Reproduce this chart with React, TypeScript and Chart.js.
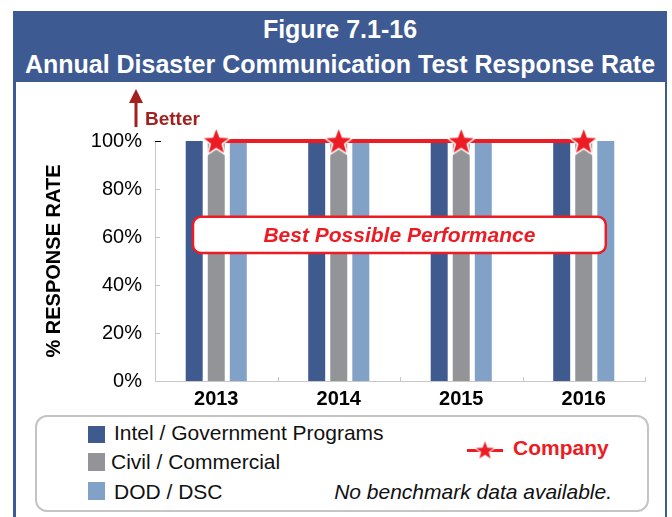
import React, { useEffect, useRef } from 'react';
import { Chart, registerables } from 'chart.js';

Chart.register(...registerables);

// ---- data ----
const years = ['2013', '2014', '2015', '2016'];
const intelGov = [100, 100, 100, 100];
const civilCommercial = [100, 100, 100, 100];
const dodDsc = [100, 100, 100, 100];
const companyBest = [100, 100, 100, 100];
const yTickValues = [0, 20, 40, 60, 80, 100];

const seriesNames = ['Intel / Government Programs', 'Civil / Commercial', 'DOD / DSC'];
const companyName = 'Company';
const noteText = 'No benchmark data available.';
const titleLine1 = 'Figure 7.1-16';
const titleLine2 = 'Annual Disaster Communication Test Response Rate';
const yTitle = '% RESPONSE RATE';
const bestText = 'Best Possible Performance';
const betterText = 'Better';

// ---- styles ----
const FONT = '"Liberation Sans", Arial, Helvetica, sans-serif';
const BLUE = '#3E5A8F';
const GRAY = '#929497';
const LIGHT = '#81A1C7';
const RED = '#ED1C24';
const DARKRED = '#A3201F';
const FRAME = '#3E5A92';

function makeStar(R: number, fill: string, stroke: string, lw: number) {
  const size = Math.ceil(2 * (R + lw + 1));
  const c = document.createElement('canvas');
  c.width = size;
  c.height = size;
  const ctx = c.getContext('2d')!;
  const cx = size / 2;
  const cy = size / 2 + R * 0.09;
  ctx.beginPath();
  for (let i = 0; i < 10; i++) {
    const a = -Math.PI / 2 + (i * Math.PI) / 5;
    const r = i % 2 === 0 ? R : R * 0.42;
    const x = cx + r * Math.cos(a);
    const y = cy + r * Math.sin(a);
    if (i === 0) ctx.moveTo(x, y);
    else ctx.lineTo(x, y);
  }
  ctx.closePath();
  ctx.lineJoin = 'miter';
  if (lw > 0) {
    ctx.strokeStyle = stroke;
    ctx.lineWidth = lw * 2;
    ctx.stroke();
  }
  ctx.fillStyle = fill;
  ctx.fill();
  return c;
}

function roundRect(ctx: CanvasRenderingContext2D, x: number, y: number, w: number, h: number, r: number) {
  ctx.beginPath();
  ctx.moveTo(x + r, y);
  ctx.lineTo(x + w - r, y);
  ctx.arcTo(x + w, y, x + w, y + r, r);
  ctx.lineTo(x + w, y + h - r);
  ctx.arcTo(x + w, y + h, x + w - r, y + h, r);
  ctx.lineTo(x + r, y + h);
  ctx.arcTo(x, y + h, x, y + h - r, r);
  ctx.lineTo(x, y + r);
  ctx.arcTo(x, y, x + r, y, r);
  ctx.closePath();
}

const decorPlugin = {
  id: 'decor',
  afterDatasetsDraw(chart: any) {
    const { ctx, scales } = chart;
    const xs = scales.x;
    const ys = scales.y;
    const x0 = xs.getPixelForValue(0);
    const step = xs.getPixelForValue(1) - x0;
    const px = (v: number) => x0 + v * step;

    // Best Possible Performance box
    const left = px(-0.19);
    const right = px(3.18);
    const top = ys.getPixelForValue(68.4);
    const bottom = ys.getPixelForValue(53.3);
    ctx.save();
    roundRect(ctx, left, top, right - left, bottom - top, 8);
    ctx.fillStyle = '#ffffff';
    ctx.fill();
    ctx.lineWidth = 2.5;
    ctx.strokeStyle = RED;
    ctx.stroke();
    ctx.fillStyle = RED;
    ctx.font = `italic bold 21px ${FONT}`;
    ctx.textAlign = 'center';
    ctx.textBaseline = 'middle';
    ctx.fillText(bestText, (left + right) / 2, (top + bottom) / 2 + 1);
    ctx.restore();
  },
  afterDraw(chart: any) {
    const { ctx, scales, chartArea } = chart;
    const xs = scales.x;
    const ys = scales.y;
    ctx.save();
    // inner y tick marks
    yTickValues.forEach((v) => {
      if (v === 0) return;
      const y = Math.round(ys.getPixelForValue(v)) + 0.5;
      ctx.beginPath();
      ctx.moveTo(chartArea.left, y);
      ctx.lineTo(chartArea.left + (v === 100 ? 6 : 5), y);
      ctx.strokeStyle = v === 100 ? '#000000' : '#C8C8C8';
      ctx.lineWidth = 1;
      ctx.stroke();
    });
    // inner x tick marks at category boundaries
    const x0 = xs.getPixelForValue(0);
    const step = xs.getPixelForValue(1) - x0;
    for (let i = 1; i <= years.length; i++) {
      const x = Math.round(x0 + (i - 0.5) * step) + 0.5;
      ctx.beginPath();
      ctx.moveTo(x, chartArea.bottom);
      ctx.lineTo(x, chartArea.bottom - 4);
      ctx.strokeStyle = '#C8C8C8';
      ctx.lineWidth = 1;
      ctx.stroke();
    }
    // Better arrow
    const ax = chartArea.left - 19;
    const tip = chartArea.top - 52;
    const shaftBottom = chartArea.top - 14;
    ctx.fillStyle = DARKRED;
    ctx.beginPath();
    ctx.moveTo(ax, tip);
    ctx.lineTo(ax + 7, tip + 14);
    ctx.lineTo(ax - 7, tip + 14);
    ctx.closePath();
    ctx.fill();
    ctx.fillRect(ax - 1.5, tip + 12, 3, shaftBottom - tip - 12);
    ctx.font = `bold 19px ${FONT}`;
    ctx.textAlign = 'left';
    ctx.textBaseline = 'alphabetic';
    ctx.fillText(betterText, ax + 9, chartArea.top - 16);
    ctx.restore();
  },
};

export default function App() {
  const ref = useRef<HTMLCanvasElement>(null);
  const iconRef = useRef<HTMLCanvasElement>(null);

  useEffect(() => {
    const star = makeStar(13, RED, '#ffffff', 1.5);
    const chart = new Chart(ref.current!, {
      type: 'bar',
      data: {
        labels: years,
        datasets: [
          {
            type: 'line',
            label: companyName,
            data: companyBest,
            borderColor: RED,
            borderWidth: 4,
            pointStyle: star as any,
            pointRadius: 13,
            fill: false,
            clip: false,
            order: 0,
          } as any,
          {
            label: seriesNames[0],
            data: intelGov,
            backgroundColor: BLUE,
            categoryPercentage: 0.54,
            barPercentage: 0.77,
            order: 1,
          },
          {
            label: seriesNames[1],
            data: civilCommercial,
            backgroundColor: GRAY,
            categoryPercentage: 0.54,
            barPercentage: 0.77,
            order: 1,
          },
          {
            label: seriesNames[2],
            data: dodDsc,
            backgroundColor: LIGHT,
            categoryPercentage: 0.54,
            barPercentage: 0.77,
            order: 1,
          },
        ],
      },
      options: {
        animation: false,
        responsive: false,
        maintainAspectRatio: false,
        devicePixelRatio: 1,
        layout: { padding: { top: 59, right: 20, left: 0, bottom: 0 } },
        plugins: {
          legend: { display: false },
          tooltip: { enabled: false },
          title: { display: false },
        },
        scales: {
          x: {
            grid: { display: false, drawTicks: false },
            border: { display: true, color: '#C8C8C8', width: 1 },
            ticks: {
              color: '#000000',
              font: { family: FONT, size: 20, weight: 'bold' },
              padding: 6,
            },
            afterFit: (s: any) => {
              s.height = 31;
            },
          },
          y: {
            min: 0,
            max: 100,
            grid: { display: false, drawTicks: false },
            border: { display: true, color: '#C8C8C8', width: 1 },
            ticks: {
              stepSize: 20,
              color: '#000000',
              font: { family: FONT, size: 20 },
              padding: 13,
              callback: (v: any) => `${v}%`,
            },
            title: {
              display: true,
              text: yTitle,
              color: '#000000',
              font: { family: FONT, size: 20, weight: 'bold' },
              padding: { top: 26, bottom: 0 },
            },
            afterFit: (s: any) => {
              s.width = 139;
            },
          },
        },
      },
      plugins: [decorPlugin],
    });

    // legend icon for Company
    const ic = iconRef.current!;
    const ictx = ic.getContext('2d')!;
    ictx.clearRect(0, 0, ic.width, ic.height);
    ictx.fillStyle = RED;
    ictx.fillRect(0, 11, 36, 3);
    const s2 = makeStar(9.5, RED, '#ffffff', 1);
    ictx.drawImage(s2, 18 - s2.width / 2, 12 - s2.height / 2);

    return () => chart.destroy();
  }, []);

  const txt: React.CSSProperties = {
    position: 'absolute',
    fontFamily: FONT,
    fontSize: 21,
    lineHeight: '24px',
    color: '#111111',
    whiteSpace: 'nowrap',
  };

  const head: React.CSSProperties = {
    position: 'absolute',
    left: 13,
    width: 654,
    textAlign: 'center',
    color: '#ffffff',
    fontFamily: FONT,
    fontWeight: 'bold',
    fontSize: 25,
    lineHeight: '28px',
    whiteSpace: 'nowrap',
  };

  return (
    <div style={{ position: 'fixed', left: 0, top: 0, width: 672, height: 517, overflow: 'hidden', background: '#ffffff' }}>
      <div style={{ position: 'absolute', left: 13, top: 11, width: 654, height: 520, background: FRAME }} />
      <div style={{ position: 'absolute', left: 16, top: 82, width: 649, height: 500, background: '#ffffff' }} />
      <div style={{ ...head, top: 15 }}>{titleLine1}</div>
      <div style={{ ...head, top: 50 }}>{titleLine2}</div>
      <canvas ref={ref} width={649} height={330} style={{ position: 'absolute', left: 16, top: 82, width: 649, height: 330 }} />
      <div
        style={{
          position: 'absolute',
          left: 35,
          top: 415,
          width: 614,
          height: 97,
          border: '2px solid #C4C4C4',
          borderRadius: 12,
          boxSizing: 'border-box',
        }}
      />
      <div style={{ position: 'absolute', left: 88, top: 426, width: 17, height: 17, background: BLUE }} />
      <div style={{ position: 'absolute', left: 88, top: 453, width: 17, height: 18, background: GRAY }} />
      <div style={{ position: 'absolute', left: 88, top: 482, width: 17, height: 18, background: LIGHT }} />
      <div style={{ ...txt, left: 114, top: 421 }}>{seriesNames[0]}</div>
      <div style={{ ...txt, left: 111, top: 450 }}>{seriesNames[1]}</div>
      <div style={{ ...txt, left: 114, top: 480 }}>{seriesNames[2]}</div>
      <canvas ref={iconRef} width={37} height={24} style={{ position: 'absolute', left: 467, top: 438, width: 37, height: 24 }} />
      <div style={{ ...txt, left: 513, top: 436, color: RED, fontWeight: 'bold' }}>{companyName}</div>
      <div style={{ ...txt, right: 672 - 612, top: 480, fontStyle: 'italic' }}>{noteText}</div>
    </div>
  );
}
